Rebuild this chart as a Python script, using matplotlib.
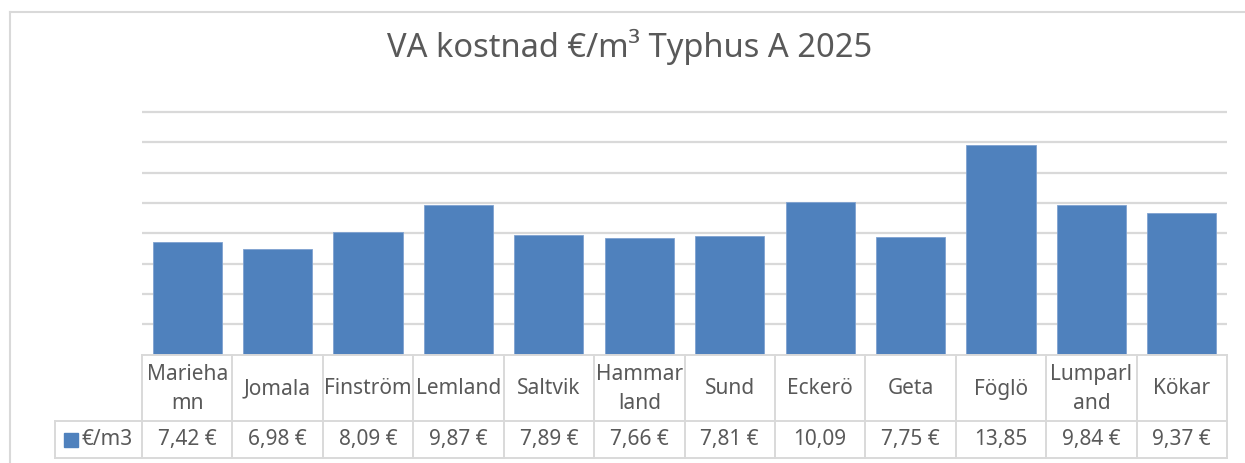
import matplotlib
matplotlib.use("Agg")
import matplotlib.pyplot as plt
from matplotlib import transforms
from matplotlib.patches import Rectangle
from matplotlib.lines import Line2D

categories = ["Mariehamn", "Jomala", "Finström", "Lemland", "Saltvik", "Hammarland",
              "Sund", "Eckerö", "Geta", "Föglö", "Lumparland", "Kökar"]
cat_labels = ["Marieha\nmn", "Jomala", "Finström", "Lemland", "Saltvik", "Hammar\nland",
              "Sund", "Eckerö", "Geta", "Föglö", "Lumparl\nand", "Kökar"]
values = [7.42, 6.98, 8.09, 9.87, 7.89, 7.66, 7.81, 10.09, 7.75, 13.85, 9.84, 9.37]
value_labels = ["7,42 €", "6,98 €", "8,09 €", "9,87 €", "7,89 €", "7,66 €", "7,81 €",
                "10,09", "7,75 €", "13,85", "9,84 €", "9,37 €"]
series_name = "€/m3"
title = "VA kostnad €/m³ Typhus A 2025"

FONT = ["Noto Sans", "DejaVu Sans"]
TXT = "#595959"
GRID = "#d9d9d9"
BAR = "#4f81bd"

W, H = 1245, 463
fig = plt.figure(figsize=(W / 100, H / 100), dpi=100)

def fy(px):
    return 1 - px / H

def fx(px):
    return px / W

# outer chart frame
fig.add_artist(Line2D([fx(10), 1.0], [fy(12), fy(12)], color=GRID, lw=1.5, transform=fig.transFigure))
fig.add_artist(Line2D([fx(10), fx(10)], [fy(12), 0.0], color=GRID, lw=1.5, transform=fig.transFigure))

left_px, right_px, bottom_px, top_px = 142, 1227, 354.7, 100
ax = fig.add_axes([fx(left_px), fy(bottom_px), (right_px - left_px) / W, (bottom_px - top_px) / H])
x = list(range(len(categories)))
ax.bar(x, values, width=0.765, color=BAR, edgecolor="#7fa2d0", linewidth=0.6, zorder=3)
ax.set_xlim(-0.5, len(categories) - 0.5)
ax.set_ylim(0, (bottom_px - top_px) / 15.17)
ax.set_yticks(range(2, 17, 2))
ax.yaxis.grid(True, color=GRID, lw=1.6, zorder=0)
ax.tick_params(left=False, bottom=False, labelleft=False, labelbottom=False)
for s in ax.spines.values():
    s.set_visible(False)

fig.text(0.5 + 7 / W, fy(57), title, ha="center", va="baseline", fontsize=23.5,
         color=TXT, family=FONT)

# data table
tr = transforms.blended_transform_factory(ax.transData, fig.transFigure)
lw = 1.4
n = len(categories)
y_top, y_mid, y_bot = 355, 421, 458
fig.add_artist(Line2D([-0.5, n - 0.5], [fy(y_top)] * 2, color=GRID, lw=lw, transform=tr))
for yy in (y_mid, y_bot):
    fig.add_artist(Line2D([fx(55), 1.0 - (W - right_px) / W], [fy(yy)] * 2, color=GRID, lw=lw,
                          transform=fig.transFigure))
for k in range(n + 1):
    fig.add_artist(Line2D([k - 0.5, k - 0.5], [fy(y_top), fy(y_bot)], color=GRID, lw=lw, transform=tr))
fig.add_artist(Line2D([fx(55), fx(55)], [fy(y_mid), fy(y_bot)], color=GRID, lw=lw,
                      transform=fig.transFigure))

FS = 15
for i in range(n):
    fig.text(i, fy((y_top + y_mid) / 2 + 1), cat_labels[i], ha="center", va="center",
             fontsize=FS, color=TXT, family=FONT, transform=tr, linespacing=1.45)
    fig.text(i, fy((y_mid + y_bot) / 2), value_labels[i], ha="center", va="center",
             fontsize=FS, color=TXT, family=FONT, transform=tr)

fig.add_artist(Rectangle((fx(64), fy(446.5)), 14 / W, 14 / H, color=BAR, transform=fig.transFigure))
fig.text(fx(81), fy((y_mid + y_bot) / 2), series_name, ha="left", va="center",
         fontsize=FS, color=TXT, family=FONT)

fig.savefig("out.png", dpi=100)
